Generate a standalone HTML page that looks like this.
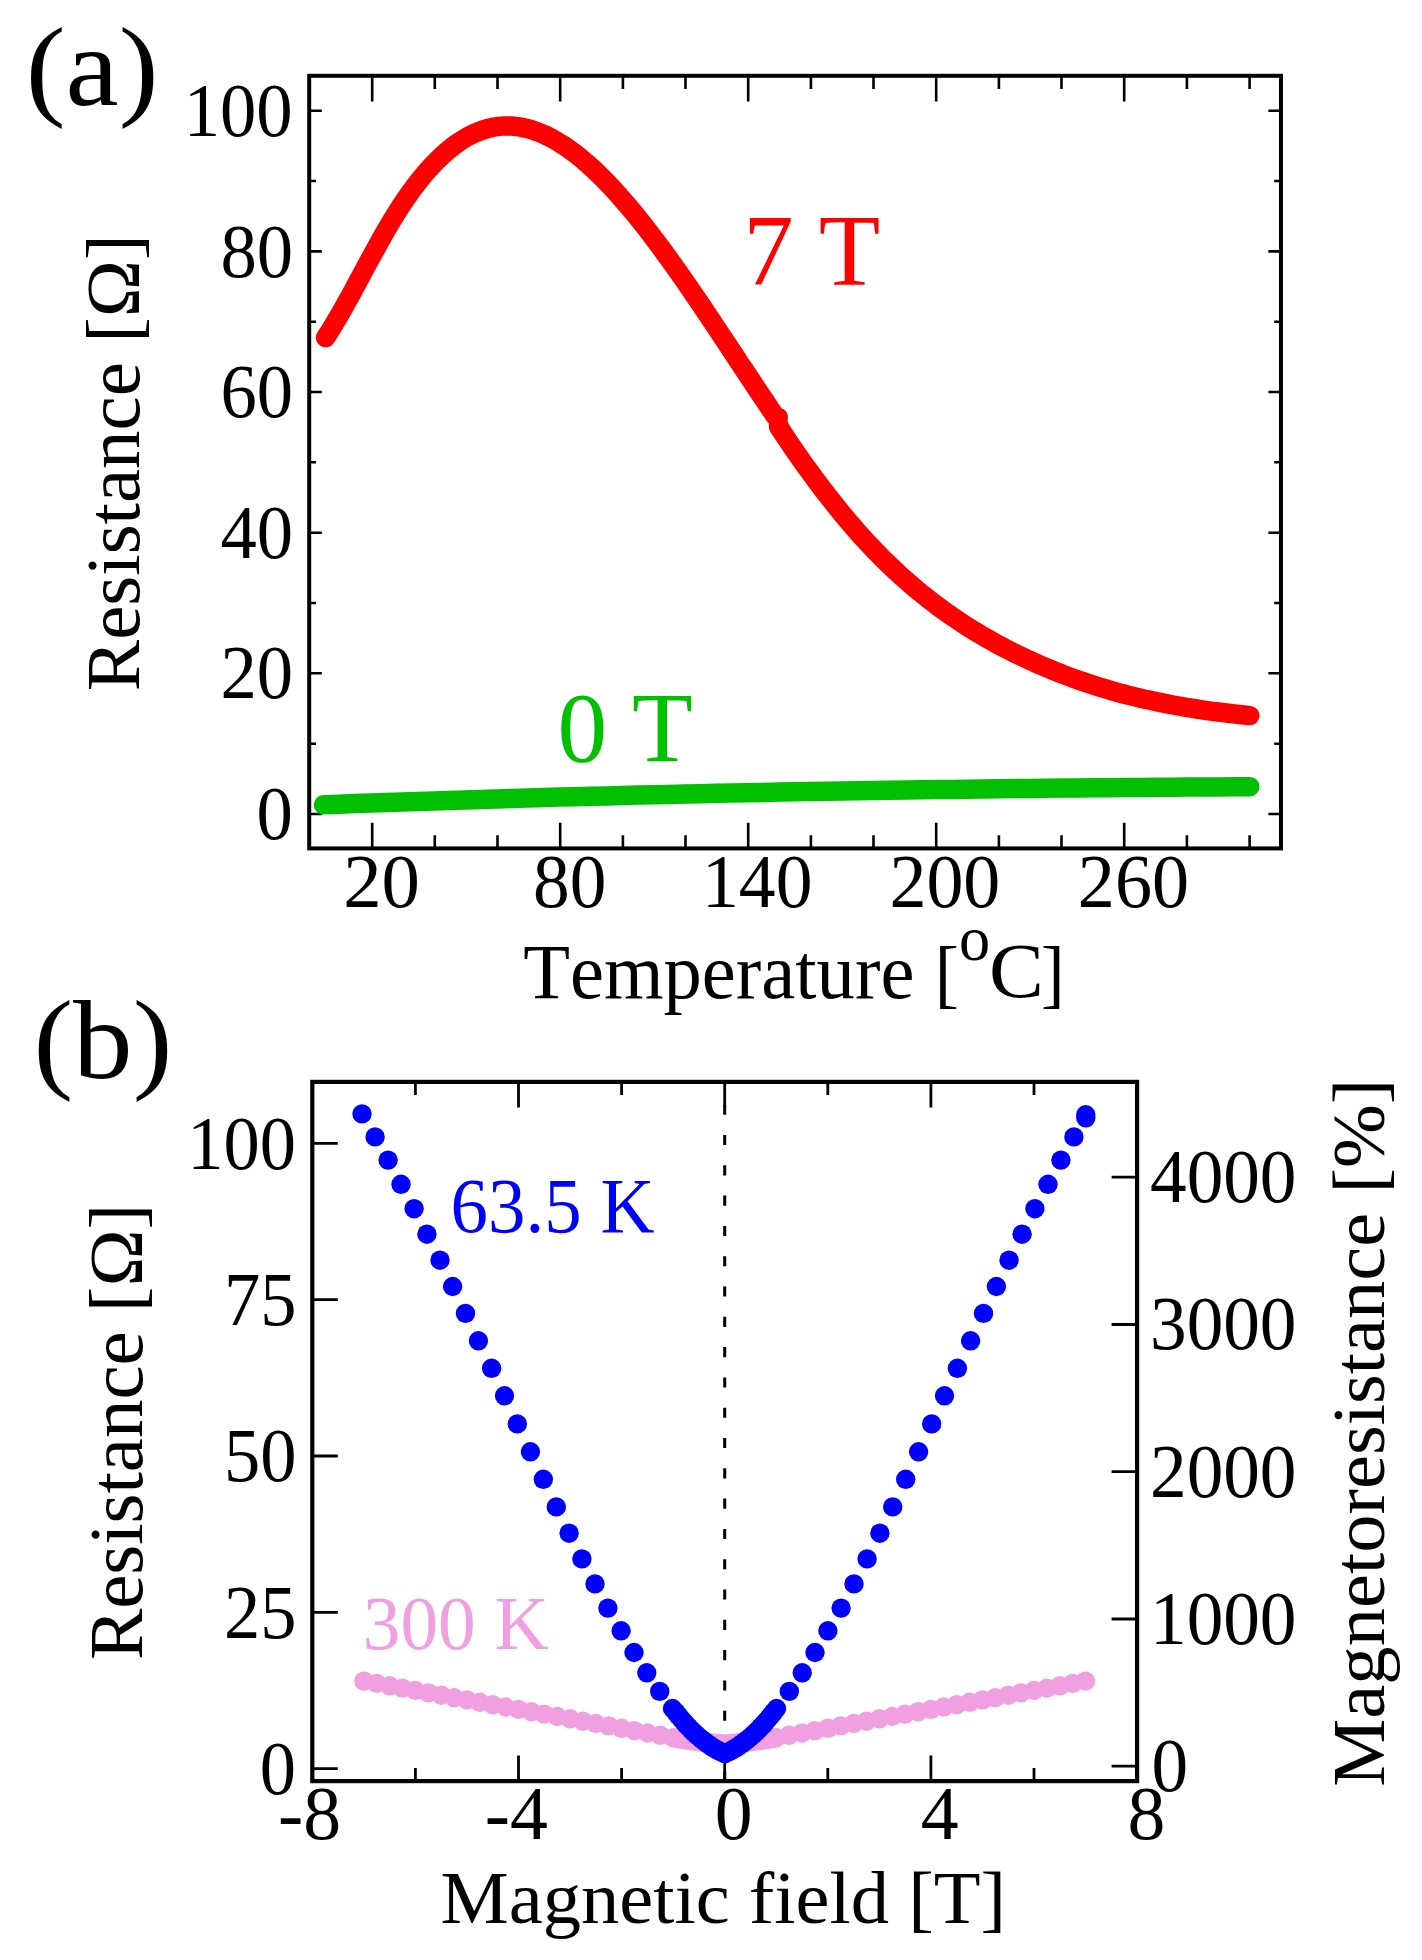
<!DOCTYPE html>
<html><head><meta charset="utf-8"><title>Resistance vs Temperature and Magnetic field</title>
<style>html,body{margin:0;padding:0;background:#fff;}svg{display:block;font-family:"Liberation Serif",serif;font-kerning:none;}text{font-kerning:none;}</style>
</head><body>
<svg width="1422" height="1960" viewBox="0 0 1422 1960"><rect x="309.2" y="75.8" width="971.8" height="772.6" fill="none" stroke="#000" stroke-width="4"/>
<path d="M372.2,848.4V822.8 M372.2,75.8V101.4 M434.8,848.4V835.2 M434.8,75.8V89.0 M497.5,848.4V835.2 M497.5,75.8V89.0 M560.2,848.4V822.8 M560.2,75.8V101.4 M622.9,848.4V835.2 M622.9,75.8V89.0 M685.5,848.4V835.2 M685.5,75.8V89.0 M748.2,848.4V822.8 M748.2,75.8V101.4 M810.9,848.4V835.2 M810.9,75.8V89.0 M873.5,848.4V835.2 M873.5,75.8V89.0 M936.2,848.4V822.8 M936.2,75.8V101.4 M998.9,848.4V835.2 M998.9,75.8V89.0 M1061.5,848.4V835.2 M1061.5,75.8V89.0 M1124.2,848.4V822.8 M1124.2,75.8V101.4 M1186.9,848.4V835.2 M1186.9,75.8V89.0 M1249.6,848.4V835.2 M1249.6,75.8V89.0 M309.2,814.0H321.8 M1281.0,814.0H1268.4 M309.2,743.7H316.0 M1281.0,743.7H1274.2 M309.2,673.3H321.8 M1281.0,673.3H1268.4 M309.2,603.0H316.0 M1281.0,603.0H1274.2 M309.2,532.7H321.8 M1281.0,532.7H1268.4 M309.2,462.3H316.0 M1281.0,462.3H1274.2 M309.2,392.0H321.8 M1281.0,392.0H1268.4 M309.2,321.7H316.0 M1281.0,321.7H1274.2 M309.2,251.4H321.8 M1281.0,251.4H1268.4 M309.2,181.0H316.0 M1281.0,181.0H1274.2 M309.2,110.7H321.8 M1281.0,110.7H1268.4" stroke="#000" stroke-width="2.6" fill="none"/>
<path d="M325.6,337.6 L330.7,329.7 L335.7,321.4 L340.8,312.8 L345.8,303.8 L350.9,294.7 L355.9,285.4 L361.0,275.9 L366.0,266.5 L371.1,257.1 L376.2,247.9 L381.2,238.8 L386.3,229.9 L391.3,221.3 L396.4,213.1 L401.4,205.3 L406.5,197.8 L411.5,190.7 L416.6,183.9 L421.6,177.5 L426.7,171.5 L431.8,165.9 L436.8,160.6 L441.9,155.8 L446.9,151.3 L452.0,147.1 L457.0,143.4 L462.1,140.0 L467.1,137.0 L472.2,134.3 L477.3,132.1 L482.3,130.1 L487.4,128.6 L492.4,127.4 L497.5,126.5 L502.5,126.1 L507.6,125.9 L512.6,126.1 L517.7,126.7 L522.7,127.5 L527.8,128.7 L532.9,130.2 L537.9,132.0 L543.0,134.0 L548.0,136.4 L553.1,139.0 L558.1,142.0 L563.2,145.1 L568.2,148.6 L573.3,152.2 L578.4,156.2 L583.4,160.3 L588.5,164.7 L593.5,169.3 L598.6,174.1 L603.6,179.1 L608.7,184.3 L613.7,189.7 L618.8,195.3 L623.8,201.1 L628.9,207.0 L634.0,213.0 L639.0,219.3 L644.1,225.6 L649.1,232.1 L654.2,238.8 L659.2,245.5 L664.3,252.4 L669.3,259.3 L674.4,266.4 L679.5,273.6 L684.5,280.8 L689.6,288.1 L694.6,295.5 L699.7,302.9 L704.7,310.4 L709.8,317.9 L714.8,325.5 L719.9,333.1 L724.9,340.7 L730.0,348.4 L735.1,356.0 L740.1,363.7 L745.2,371.3 L750.2,378.9 L755.3,386.5 L760.3,394.1 L765.4,401.6 L770.4,409.1 L775.5,416.5 L778.2,417.2" stroke="#ff0000" stroke-width="19.5" fill="none" stroke-linecap="round" stroke-linejoin="round"/>
<path d="M778.8,424.8 L778.5,426.5 L783.8,434.5 L789.1,442.4 L794.4,450.2 L799.7,457.8 L805.0,465.3 L810.3,472.6 L815.6,479.8 L820.9,486.9 L826.2,493.8 L831.5,500.6 L836.8,507.2 L842.0,513.7 L847.3,520.0 L852.6,526.2 L857.9,532.3 L863.2,538.1 L868.5,543.9 L873.8,549.5 L879.1,554.9 L884.4,560.3 L889.7,565.4 L895.0,570.4 L900.3,575.3 L905.6,580.1 L910.9,584.7 L916.2,589.2 L921.5,593.5 L926.8,597.8 L932.1,601.9 L937.4,605.9 L942.7,609.8 L948.0,613.6 L953.3,617.2 L958.5,620.8 L963.8,624.3 L969.1,627.7 L974.4,631.0 L979.7,634.1 L985.0,637.3 L990.3,640.3 L995.6,643.2 L1000.9,646.1 L1006.2,648.9 L1011.5,651.6 L1016.8,654.2 L1022.1,656.8 L1027.4,659.3 L1032.7,661.7 L1038.0,664.1 L1043.3,666.4 L1048.6,668.6 L1053.9,670.8 L1059.2,672.9 L1064.5,675.0 L1069.8,677.0 L1075.0,678.9 L1080.3,680.8 L1085.6,682.6 L1090.9,684.3 L1096.2,686.0 L1101.5,687.7 L1106.8,689.2 L1112.1,690.8 L1117.4,692.3 L1122.7,693.7 L1128.0,695.1 L1133.3,696.4 L1138.6,697.7 L1143.9,698.9 L1149.2,700.1 L1154.5,701.3 L1159.8,702.4 L1165.1,703.4 L1170.4,704.5 L1175.7,705.5 L1181.0,706.4 L1186.3,707.3 L1191.5,708.2 L1196.8,709.0 L1202.1,709.8 L1207.4,710.6 L1212.7,711.3 L1218.0,712.0 L1223.3,712.7 L1228.6,713.3 L1233.9,713.9 L1239.2,714.5 L1244.5,715.0 L1249.8,715.6" stroke="#ff0000" stroke-width="19.5" fill="none" stroke-linecap="round" stroke-linejoin="round"/>
<path d="M323.5,804.8 L339.2,804.2 L354.9,803.6 L370.6,803.1 L386.3,802.5 L402.0,801.9 L417.7,801.4 L433.4,800.9 L449.1,800.4 L464.8,799.9 L480.5,799.4 L496.2,798.9 L511.9,798.4 L527.6,798.0 L543.3,797.5 L559.0,797.1 L574.7,796.7 L590.4,796.3 L606.1,795.9 L621.8,795.5 L637.5,795.1 L653.2,794.7 L668.9,794.4 L684.6,794.0 L700.3,793.7 L716.0,793.3 L731.7,793.0 L747.4,792.7 L763.1,792.4 L778.8,792.1 L794.5,791.8 L810.2,791.5 L825.9,791.2 L841.6,791.0 L857.3,790.7 L873.0,790.5 L888.7,790.2 L904.4,790.0 L920.1,789.8 L935.8,789.6 L951.5,789.4 L967.2,789.2 L982.9,789.0 L998.6,788.8 L1014.3,788.6 L1030.0,788.4 L1045.7,788.3 L1061.4,788.1 L1077.1,788.0 L1092.8,787.8 L1108.5,787.7 L1124.2,787.5 L1139.9,787.4 L1155.6,787.3 L1171.3,787.2 L1187.0,787.1 L1202.7,787.0 L1218.4,786.9 L1234.1,786.8 L1249.8,786.7" stroke="#00c000" stroke-width="19.5" fill="none" stroke-linecap="round" stroke-linejoin="round"/>
<rect x="312.3" y="1081.9" width="824.8" height="699.2" fill="none" stroke="#000" stroke-width="4.2"/>
<path d="M415.4,1781.1V1767.9 M415.4,1081.9V1095.1 M518.5,1781.1V1755.5 M518.5,1081.9V1107.5 M621.6,1781.1V1767.9 M621.6,1081.9V1095.1 M724.7,1781.1V1755.5 M724.7,1081.9V1107.5 M827.8,1781.1V1767.9 M827.8,1081.9V1095.1 M930.9,1781.1V1755.5 M930.9,1081.9V1107.5 M1034.0,1781.1V1767.9 M1034.0,1081.9V1095.1 M312.3,1768.6H337.8 M312.3,1612.3H337.8 M312.3,1456.0H337.8 M312.3,1299.7H337.8 M312.3,1143.4H337.8 M1137.1,1766.2H1111.6 M1137.1,1619.0H1111.6 M1137.1,1471.7H1111.6 M1137.1,1324.5H1111.6 M1137.1,1177.2H1111.6" stroke="#000" stroke-width="2.8" fill="none"/>
<path d="M724.7,1084V1779" stroke="#000" stroke-width="3" stroke-dasharray="10.1 20.2" stroke-dashoffset="9.6" fill="none"/>
<g fill="#f0a0e0"><circle cx="363.9" cy="1681.1" r="9.7"/><circle cx="1085.5" cy="1681.1" r="9.7"/><circle cx="376.7" cy="1683.4" r="9.7"/><circle cx="1072.7" cy="1683.4" r="9.7"/><circle cx="389.6" cy="1685.8" r="9.7"/><circle cx="1059.8" cy="1685.8" r="9.7"/><circle cx="402.5" cy="1688.1" r="9.7"/><circle cx="1046.9" cy="1688.1" r="9.7"/><circle cx="415.4" cy="1690.5" r="9.7"/><circle cx="1034.0" cy="1690.5" r="9.7"/><circle cx="428.3" cy="1692.9" r="9.7"/><circle cx="1021.1" cy="1692.9" r="9.7"/><circle cx="441.2" cy="1695.2" r="9.7"/><circle cx="1008.2" cy="1695.2" r="9.7"/><circle cx="454.1" cy="1697.6" r="9.7"/><circle cx="995.3" cy="1697.6" r="9.7"/><circle cx="467.0" cy="1699.9" r="9.7"/><circle cx="982.5" cy="1699.9" r="9.7"/><circle cx="479.8" cy="1702.3" r="9.7"/><circle cx="969.6" cy="1702.3" r="9.7"/><circle cx="492.7" cy="1704.7" r="9.7"/><circle cx="956.7" cy="1704.7" r="9.7"/><circle cx="505.6" cy="1707.0" r="9.7"/><circle cx="943.8" cy="1707.0" r="9.7"/><circle cx="518.5" cy="1709.4" r="9.7"/><circle cx="930.9" cy="1709.4" r="9.7"/><circle cx="531.4" cy="1711.7" r="9.7"/><circle cx="918.0" cy="1711.7" r="9.7"/><circle cx="544.3" cy="1714.1" r="9.7"/><circle cx="905.1" cy="1714.1" r="9.7"/><circle cx="557.2" cy="1716.5" r="9.7"/><circle cx="892.2" cy="1716.5" r="9.7"/><circle cx="570.1" cy="1718.8" r="9.7"/><circle cx="879.4" cy="1718.8" r="9.7"/><circle cx="582.9" cy="1721.2" r="9.7"/><circle cx="866.5" cy="1721.2" r="9.7"/><circle cx="595.8" cy="1723.5" r="9.7"/><circle cx="853.6" cy="1723.5" r="9.7"/><circle cx="608.7" cy="1725.9" r="9.7"/><circle cx="840.7" cy="1725.9" r="9.7"/><circle cx="621.6" cy="1728.3" r="9.7"/><circle cx="827.8" cy="1728.3" r="9.7"/><circle cx="634.5" cy="1730.6" r="9.7"/><circle cx="814.9" cy="1730.6" r="9.7"/><circle cx="647.4" cy="1733.0" r="9.7"/><circle cx="802.0" cy="1733.0" r="9.7"/><circle cx="660.3" cy="1735.3" r="9.7"/><circle cx="789.1" cy="1735.3" r="9.7"/><circle cx="673.2" cy="1737.7" r="9.7"/><circle cx="776.2" cy="1737.7" r="9.7"/><circle cx="675.7" cy="1738.2" r="9.7"/><circle cx="678.3" cy="1738.6" r="9.7"/><circle cx="680.9" cy="1739.0" r="9.7"/><circle cx="683.5" cy="1739.5" r="9.7"/><circle cx="686.0" cy="1739.9" r="9.7"/><circle cx="688.6" cy="1740.3" r="9.7"/><circle cx="691.2" cy="1740.6" r="9.7"/><circle cx="693.8" cy="1741.0" r="9.7"/><circle cx="696.3" cy="1741.3" r="9.7"/><circle cx="698.9" cy="1741.7" r="9.7"/><circle cx="701.5" cy="1742.0" r="9.7"/><circle cx="704.1" cy="1742.3" r="9.7"/><circle cx="706.7" cy="1742.6" r="9.7"/><circle cx="709.2" cy="1742.8" r="9.7"/><circle cx="711.8" cy="1743.1" r="9.7"/><circle cx="714.4" cy="1743.3" r="9.7"/><circle cx="717.0" cy="1743.5" r="9.7"/><circle cx="719.5" cy="1743.7" r="9.7"/><circle cx="722.1" cy="1743.9" r="9.7"/><circle cx="724.7" cy="1744.1" r="9.7"/><circle cx="727.3" cy="1743.9" r="9.7"/><circle cx="729.9" cy="1743.7" r="9.7"/><circle cx="732.4" cy="1743.5" r="9.7"/><circle cx="735.0" cy="1743.3" r="9.7"/><circle cx="737.6" cy="1743.1" r="9.7"/><circle cx="740.2" cy="1742.8" r="9.7"/><circle cx="742.7" cy="1742.6" r="9.7"/><circle cx="745.3" cy="1742.3" r="9.7"/><circle cx="747.9" cy="1742.0" r="9.7"/><circle cx="750.5" cy="1741.7" r="9.7"/><circle cx="753.1" cy="1741.3" r="9.7"/><circle cx="755.6" cy="1741.0" r="9.7"/><circle cx="758.2" cy="1740.6" r="9.7"/><circle cx="760.8" cy="1740.3" r="9.7"/><circle cx="763.4" cy="1739.9" r="9.7"/><circle cx="765.9" cy="1739.5" r="9.7"/><circle cx="768.5" cy="1739.0" r="9.7"/><circle cx="771.1" cy="1738.6" r="9.7"/><circle cx="773.7" cy="1738.2" r="9.7"/></g>
<g fill="#0000ff"><circle cx="362.0" cy="1113.9" r="9.7"/><circle cx="1085.8" cy="1114.8" r="9.7"/><circle cx="1085.8" cy="1117.8" r="9.7"/><circle cx="375.1" cy="1136.9" r="9.7"/><circle cx="1073.9" cy="1136.9" r="9.7"/><circle cx="388.1" cy="1160.1" r="9.7"/><circle cx="1060.9" cy="1160.1" r="9.7"/><circle cx="401.0" cy="1184.3" r="9.7"/><circle cx="1048.0" cy="1184.3" r="9.7"/><circle cx="414.1" cy="1208.7" r="9.7"/><circle cx="1034.9" cy="1208.7" r="9.7"/><circle cx="426.9" cy="1234.2" r="9.7"/><circle cx="1022.1" cy="1234.2" r="9.7"/><circle cx="440.0" cy="1260.2" r="9.7"/><circle cx="1009.0" cy="1260.2" r="9.7"/><circle cx="452.6" cy="1286.5" r="9.7"/><circle cx="996.4" cy="1286.5" r="9.7"/><circle cx="465.5" cy="1313.4" r="9.7"/><circle cx="983.5" cy="1313.4" r="9.7"/><circle cx="478.4" cy="1340.8" r="9.7"/><circle cx="970.6" cy="1340.8" r="9.7"/><circle cx="491.6" cy="1368.3" r="9.7"/><circle cx="957.4" cy="1368.3" r="9.7"/><circle cx="504.5" cy="1395.8" r="9.7"/><circle cx="944.5" cy="1395.8" r="9.7"/><circle cx="517.3" cy="1423.9" r="9.7"/><circle cx="931.7" cy="1423.9" r="9.7"/><circle cx="530.4" cy="1451.8" r="9.7"/><circle cx="918.6" cy="1451.8" r="9.7"/><circle cx="543.3" cy="1479.3" r="9.7"/><circle cx="905.7" cy="1479.3" r="9.7"/><circle cx="556.3" cy="1506.9" r="9.7"/><circle cx="892.7" cy="1506.9" r="9.7"/><circle cx="569.1" cy="1533.2" r="9.7"/><circle cx="879.9" cy="1533.2" r="9.7"/><circle cx="581.9" cy="1558.9" r="9.7"/><circle cx="867.1" cy="1558.9" r="9.7"/><circle cx="595.0" cy="1583.9" r="9.7"/><circle cx="854.0" cy="1583.9" r="9.7"/><circle cx="607.9" cy="1608.1" r="9.7"/><circle cx="841.1" cy="1608.1" r="9.7"/><circle cx="621.1" cy="1630.8" r="9.7"/><circle cx="827.9" cy="1630.8" r="9.7"/><circle cx="634.0" cy="1652.5" r="9.7"/><circle cx="815.0" cy="1652.5" r="9.7"/><circle cx="646.8" cy="1672.8" r="9.7"/><circle cx="802.2" cy="1672.8" r="9.7"/><circle cx="659.7" cy="1691.4" r="9.7"/><circle cx="789.3" cy="1691.4" r="9.7"/><circle cx="672.5" cy="1708.5" r="9.7"/><circle cx="776.5" cy="1708.5" r="9.7"/><circle cx="675.7" cy="1712.1" r="9.7"/><circle cx="678.3" cy="1715.4" r="9.7"/><circle cx="680.9" cy="1718.5" r="9.7"/><circle cx="683.5" cy="1721.5" r="9.7"/><circle cx="686.0" cy="1724.3" r="9.7"/><circle cx="688.6" cy="1727.1" r="9.7"/><circle cx="691.2" cy="1729.8" r="9.7"/><circle cx="693.8" cy="1732.3" r="9.7"/><circle cx="696.3" cy="1734.7" r="9.7"/><circle cx="698.9" cy="1737.0" r="9.7"/><circle cx="701.5" cy="1739.2" r="9.7"/><circle cx="704.1" cy="1741.2" r="9.7"/><circle cx="706.7" cy="1743.2" r="9.7"/><circle cx="709.2" cy="1745.0" r="9.7"/><circle cx="711.8" cy="1746.8" r="9.7"/><circle cx="714.4" cy="1748.4" r="9.7"/><circle cx="717.0" cy="1749.8" r="9.7"/><circle cx="719.5" cy="1751.2" r="9.7"/><circle cx="722.1" cy="1752.5" r="9.7"/><circle cx="724.7" cy="1753.6" r="9.7"/><circle cx="727.3" cy="1752.5" r="9.7"/><circle cx="729.9" cy="1751.2" r="9.7"/><circle cx="732.4" cy="1749.8" r="9.7"/><circle cx="735.0" cy="1748.4" r="9.7"/><circle cx="737.6" cy="1746.8" r="9.7"/><circle cx="740.2" cy="1745.0" r="9.7"/><circle cx="742.7" cy="1743.2" r="9.7"/><circle cx="745.3" cy="1741.2" r="9.7"/><circle cx="747.9" cy="1739.2" r="9.7"/><circle cx="750.5" cy="1737.0" r="9.7"/><circle cx="753.1" cy="1734.7" r="9.7"/><circle cx="755.6" cy="1732.3" r="9.7"/><circle cx="758.2" cy="1729.8" r="9.7"/><circle cx="760.8" cy="1727.1" r="9.7"/><circle cx="763.4" cy="1724.3" r="9.7"/><circle cx="765.9" cy="1721.5" r="9.7"/><circle cx="768.5" cy="1718.5" r="9.7"/><circle cx="771.1" cy="1715.4" r="9.7"/><circle cx="773.7" cy="1712.1" r="9.7"/></g>
<g font-family="Liberation Serif">
<text transform="matrix(0.9967 0 0 0.9390 25.72 104.63)" font-size="120" fill="#000">(a)</text>
<text transform="matrix(0.9931 0 0 0.9349 33.43 1077.53)" font-size="120" fill="#000">(b)</text>
<text transform="matrix(0.9689 0 0 1.0184 256.39 839.15)" font-size="75" fill="#000">0</text>
<text transform="matrix(0.9689 0 0 1.0184 220.54 698.49)" font-size="75" fill="#000">20</text>
<text transform="matrix(0.9689 0 0 1.0184 220.54 557.83)" font-size="75" fill="#000">40</text>
<text transform="matrix(0.9689 0 0 1.0184 220.54 417.17)" font-size="75" fill="#000">60</text>
<text transform="matrix(0.9689 0 0 1.0184 220.54 276.51)" font-size="75" fill="#000">80</text>
<text transform="matrix(0.9689 0 0 1.0184 183.72 135.85)" font-size="75" fill="#000">100</text>
<text transform="matrix(1.0246 0 0 1.0082 343.13 907.40)" font-size="75" fill="#000">20</text>
<text transform="matrix(0.9783 0 0 1.0082 532.97 907.40)" font-size="75" fill="#000">80</text>
<text transform="matrix(0.9816 0 0 1.0082 702.03 907.40)" font-size="75" fill="#000">140</text>
<text transform="matrix(0.9860 0 0 1.0082 889.44 907.40)" font-size="75" fill="#000">200</text>
<text transform="matrix(0.9897 0 0 1.0082 1077.83 907.40)" font-size="75" fill="#000">260</text>
<text transform="matrix(0.9660 0 0 1.0204 259.79 1794.00)" font-size="75" fill="#000">0</text>
<text transform="matrix(0.9660 0 0 1.0204 224.05 1637.70)" font-size="75" fill="#000">25</text>
<text transform="matrix(0.9660 0 0 1.0204 224.05 1481.40)" font-size="75" fill="#000">50</text>
<text transform="matrix(0.9660 0 0 1.0204 224.05 1325.10)" font-size="75" fill="#000">75</text>
<text transform="matrix(0.9660 0 0 1.0204 187.34 1168.80)" font-size="75" fill="#000">100</text>
<text transform="matrix(0.9767 0 0 1.0122 1151.42 1791.20)" font-size="75" fill="#000">0</text>
<text transform="matrix(0.9767 0 0 1.0122 1150.02 1643.95)" font-size="75" fill="#000">1000</text>
<text transform="matrix(0.9767 0 0 1.0122 1150.02 1496.70)" font-size="75" fill="#000">2000</text>
<text transform="matrix(0.9767 0 0 1.0122 1150.02 1349.45)" font-size="75" fill="#000">3000</text>
<text transform="matrix(0.9767 0 0 1.0122 1150.02 1202.20)" font-size="75" fill="#000">4000</text>
<text transform="matrix(1.0102 0 0 1.0102 278.08 1839.40)" font-size="75" fill="#000">-8</text>
<text transform="matrix(1.0102 0 0 1.0102 484.72 1839.40)" font-size="75" fill="#000">-4</text>
<text transform="matrix(1.0102 0 0 1.0102 714.86 1839.40)" font-size="75" fill="#000">0</text>
<text transform="matrix(1.0102 0 0 1.0102 920.71 1839.40)" font-size="75" fill="#000">4</text>
<text transform="matrix(1.0102 0 0 1.0102 1127.41 1839.40)" font-size="75" fill="#000">8</text>
<text transform="matrix(1.0078 0 0 1.0227 523.19 997.74)" font-size="76" fill="#000">Temperature</text>
<text transform="matrix(0.9529 0 0 0.9968 934.78 999.43)" font-size="76" fill="#000">[</text>
<text transform="matrix(1.0385 0 0 1.0556 959.12 959.60)" font-size="60" fill="#000">o</text>
<text transform="matrix(1.0814 0 0 1.0294 988.96 997.27)" font-size="76" fill="#000">C</text>
<text transform="matrix(0.9294 0 0 0.9968 1041.11 999.43)" font-size="76" fill="#000">]</text>
<text transform="matrix(1.0074 0 0 0.9786 440.59 1922.84)" font-size="76" fill="#000">Magnetic field [T]</text>
<text transform="matrix(1.0055 0 0 1.0062 743.26 284.50)" font-size="100" fill="#ff0000">7 T</text>
<text transform="matrix(0.9946 0 0 0.9925 557.52 760.71)" font-size="100" fill="#00c000">0 T</text>
<text transform="matrix(0.9608 0 0 1.0077 450.62 1231.59)" font-size="78" fill="#0000ff">63.5 K</text>
<text transform="matrix(0.9907 0 0 0.9922 362.74 1649.41)" font-size="76" fill="#f0a0e0">300 K</text>
<text transform="matrix(0 -1.0126 0.9952 0 138.95 691.13)" font-size="76" fill="#000">Resistance [Ω]</text>
<text transform="matrix(0 -1.0113 1.0000 0 142.00 1660.02)" font-size="76" fill="#000">Resistance [Ω]</text>
<text transform="matrix(0 -1.0076 0.9797 0 1383.92 1786.72)" font-size="76" fill="#000">Magnetoresistance [%]</text>
</g></svg>
</body></html>
